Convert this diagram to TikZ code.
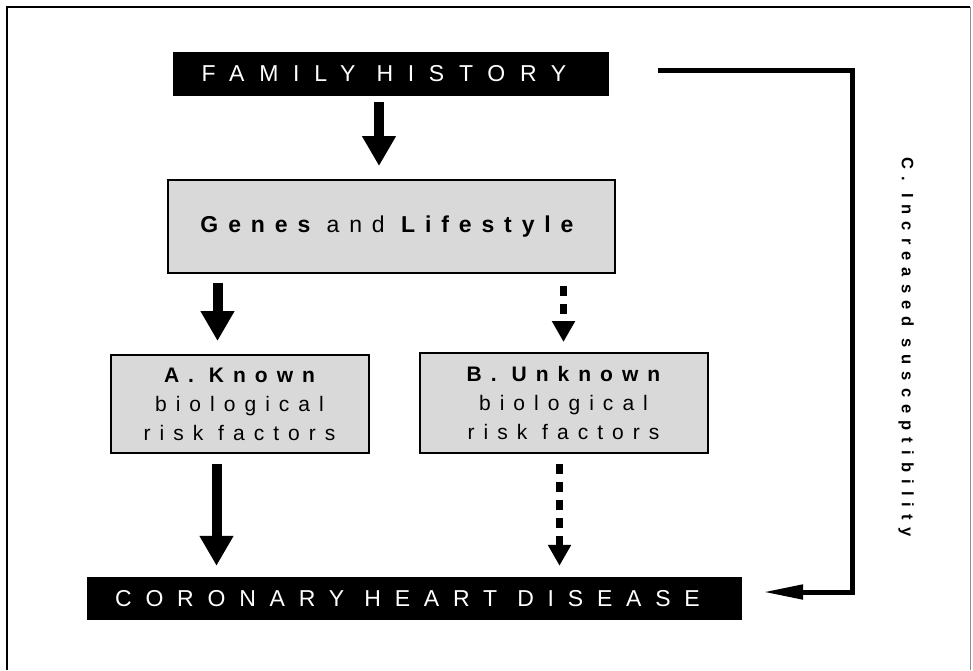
\documentclass[tikz,border=0pt]{standalone}
\usepackage{fontspec}
\setmainfont{Liberation Sans}
\newfontfamily\capsfont[LetterSpace=60]{Liberation Sans}
\newfontfamily\widecapsfont[LetterSpace=64]{Liberation Sans}
\newfontfamily\spacedfont[LetterSpace=43]{Liberation Sans}
\usetikzlibrary{shapes,arrows.meta,positioning}
\tikzstyle{blackbox} = [fill=black, text=white, rectangle, inner sep=0pt, minimum height=44pt, font=\capsfont\fontsize{23}{23}\selectfont]
\tikzstyle{greybox} = [draw, line width=2pt, fill=black!15, rectangle, inner sep=0pt, align=center, font=\spacedfont\fontsize{21}{29}\selectfont]
\tikzstyle{tmp} = [coordinate]
\tikzstyle{solidarrow} = [line width=10pt, -{Triangle[width=32pt,length=30pt]}]
\tikzstyle{dasharrow} = [line width=7pt, dash pattern=on 10pt off 8pt, -{Triangle[width=22pt,length=21pt]}]
\tikzstyle{looparrow} = [line width=5pt, -{Triangle[width=14pt,length=40pt]}]

\begin{document}
\begin{tikzpicture}[x=1pt, y=-1pt]
            \useasboundingbox (0,0) rectangle (973,670);
            % frame
            \draw [line width=2pt] (7,670) -- (7,7) -- (970,7);
            \draw [line width=1pt, black!45] (970,7) -- (970,670);

            \node [blackbox, minimum width=436pt, font=\widecapsfont\fontsize{23}{23}\selectfont] (fh) at (391,74) {FAMILY HISTORY\hspace*{14pt}};
            \node [greybox, below of=fh, node distance=152.5pt, minimum width=447pt, minimum height=93pt, font=\spacedfont\fontsize{23}{23}\selectfont] (genes) {\bfseries Genes \mdseries and \bfseries Lifestyle\hspace*{8pt}};
            \node [greybox, below of=genes, node distance=177.5pt, xshift=-151.5pt, minimum width=258pt, minimum height=98pt] (known) {\bfseries A. Known\\biological\\risk factors};
            \node [greybox, below of=genes, node distance=176.5pt, xshift=172.5pt, minimum width=288pt, minimum height=100pt] (unknown) {\bfseries B. Unknown\\biological\\risk factors};
            \node [blackbox, below of=fh, node distance=524.5pt, xshift=23.5pt, minimum width=655pt, minimum height=43pt] (chd) {CORONARY HEART DISEASE\hspace*{14pt}};
            \node [tmp, right of=fh, node distance=461pt, yshift=4pt] (tmp1) {};
            \node [rotate=-90, font=\spacedfont\bfseries\fontsize{16.5}{16.5}\selectfont] (susc) at (906,347) {C. Increased susceptibility};

            \draw [solidarrow, shorten <=6pt, shorten >=13pt] ([xshift=-12pt]fh.south) -- ([xshift=-12pt]fh.south |- genes.north);
            \draw [solidarrow, shorten <=9pt, shorten >=13pt] ([xshift=-22pt]known.north |- genes.south) -- ([xshift=-22pt]known.north);
            \draw [dasharrow, shorten <=12pt, shorten >=10pt] (unknown.north |- genes.south) -- (unknown.north);
            \draw [solidarrow, shorten <=10pt, shorten >=11pt] ([xshift=-23pt]known.south) -- ([xshift=-23pt]known.south |- chd.north);
            \draw [dasharrow, shorten <=10pt, shorten >=11pt] ([xshift=-4pt]unknown.south) -- ([xshift=-4pt]unknown.south |- chd.north);
            \draw [looparrow, shorten >=21pt] ([xshift=49pt,yshift=4pt]fh.east) -- (tmp1) |- ([yshift=6.5pt]chd.east);
\end{tikzpicture}
\end{document}
